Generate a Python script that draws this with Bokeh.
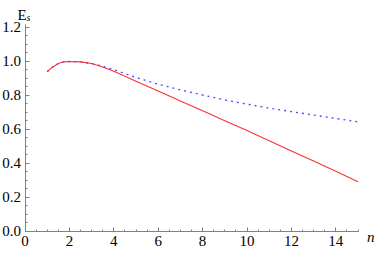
from bokeh.plotting import figure
from bokeh.models import Range1d, Label, FixedTicker, PrintfTickFormatter
from bokeh.embed import file_html
from bokeh.resources import INLINE

# data
n_red = [1, 1.25, 1.5, 1.75, 2, 2.5, 3, 3.5, 4, 5, 6, 7, 8, 9, 10, 11, 12, 13, 14, 15]
es_red = [0.94, 0.968, 0.988, 0.998, 1.0, 0.998, 0.988, 0.968, 0.942, 0.884, 0.826,
          0.768, 0.71, 0.652, 0.594, 0.534, 0.474, 0.414, 0.354, 0.293]
n_blue = [1, 1.25, 1.5, 1.75, 2, 2.5, 3, 3.5, 4, 5, 6, 7, 8, 9, 10, 11, 12, 13, 14, 15]
es_blue = [0.94, 0.968, 0.988, 0.998, 1.0, 0.998, 0.988, 0.972, 0.952, 0.906, 0.866,
           0.833, 0.803, 0.774, 0.749, 0.726, 0.705, 0.685, 0.665, 0.645]
x_ticks = [0, 2, 4, 6, 8, 10, 12, 14]
x_minor = [i * 0.5 for i in range(31)]
y_ticks = [0.0, 0.2, 0.4, 0.6, 0.8, 1.0, 1.2]
y_minor = [i * 0.05 for i in range(25)]

FONT = "Liberation Serif"
AX = "#808080"

p = figure(width=374, height=254, output_backend="svg", toolbar_location=None,
           x_range=Range1d(-1.1036, 15.743), y_range=Range1d(-0.1353, 1.3588),
           min_border_left=0, min_border_right=0, min_border_top=0, min_border_bottom=0)
p.outline_line_color = None
p.grid.visible = False
p.background_fill_color = "white"
p.border_fill_color = "white"

# x axis
xa = p.xaxis[0]
xa.fixed_location = 0
xa.bounds = (0, 15)
xa.ticker = FixedTicker(ticks=x_ticks, minor_ticks=x_minor)
xa.major_tick_in = 4
xa.major_tick_out = 0
xa.minor_tick_in = 2
xa.minor_tick_out = 0
xa.axis_line_color = AX
xa.major_tick_line_color = AX
xa.minor_tick_line_color = AX
xa.major_label_text_font = FONT
xa.major_label_text_font_size = "15px"
xa.major_label_text_color = "black"
xa.major_label_standoff = 5

# y axis
ya = p.yaxis[0]
ya.fixed_location = 0
ya.bounds = (0, 1.218)
ya.ticker = FixedTicker(ticks=y_ticks, minor_ticks=y_minor)
ya.formatter = PrintfTickFormatter(format="%.1f")
ya.major_tick_in = 4
ya.major_tick_out = 0
ya.minor_tick_in = 2
ya.minor_tick_out = 0
ya.axis_line_color = AX
ya.major_tick_line_color = AX
ya.minor_tick_line_color = AX
ya.major_label_text_font = FONT
ya.major_label_text_font_size = "15px"
ya.major_label_text_color = "black"
ya.major_label_standoff = 4

# curves
p.line(n_blue, es_blue, line_color="#5050ff", line_width=1.4, line_dash="2 4")
p.line(n_red, es_red, line_color="#ff3030", line_width=1.1)

# axis labels
p.add_layout(Label(x=-0.338, y=1.2706, text="E", text_font=FONT, text_font_size="15px",
                   text_baseline="alphabetic", text_align="left", text_color="black"))
p.add_layout(Label(x=0.068, y=1.2559, text="s", text_font=FONT, text_font_size="10px",
                   text_font_style="italic", text_baseline="alphabetic",
                   text_align="left", text_color="black"))
p.add_layout(Label(x=15.405, y=-0.0353, text="n", text_font=FONT, text_font_size="15px",
                   text_font_style="italic", text_baseline="alphabetic",
                   text_align="left", text_color="black"))

open("out.html", "w").write(file_html(p, INLINE))
